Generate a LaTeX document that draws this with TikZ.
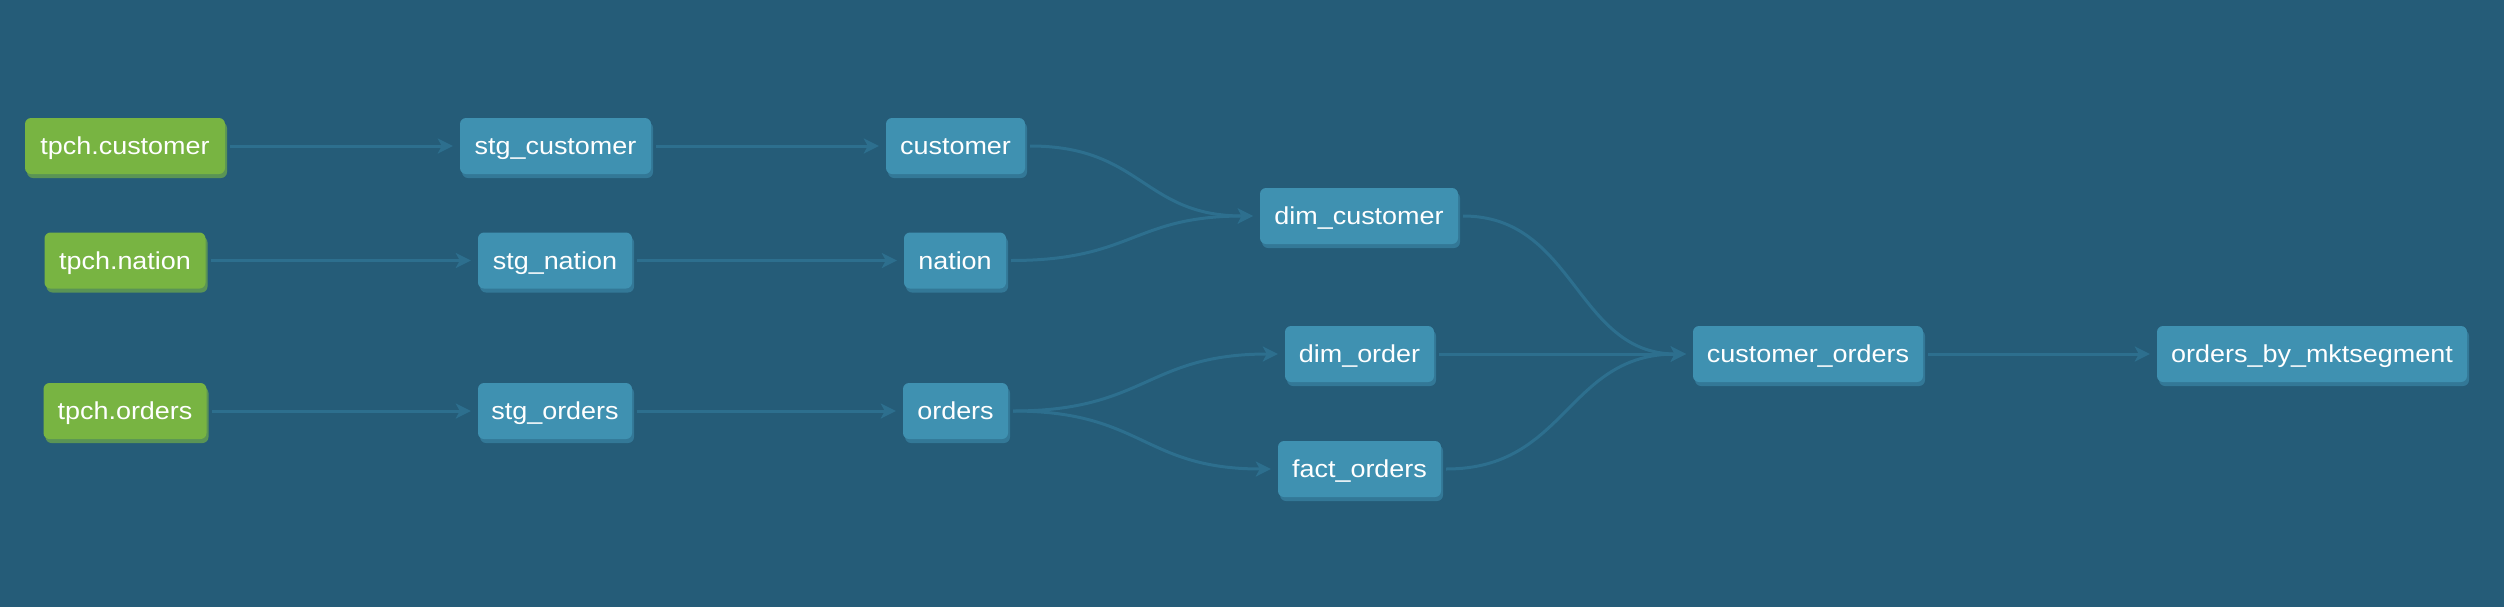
\documentclass[tikz,border=0pt]{standalone}
\usepackage{fontspec}
\setmainfont[FakeStretch=1.1]{Liberation Sans}
\usetikzlibrary{arrows.meta,shadows}
\definecolor{bgcol}{HTML}{255C78}
\definecolor{srcfill}{HTML}{78B442}
\definecolor{srcshadow}{HTML}{5A9455}
\definecolor{modelfill}{HTML}{3F91B1}
\definecolor{modelshadow}{HTML}{337897}
\definecolor{edgecol}{HTML}{2D6F8E}
\begin{document}
\begin{tikzpicture}[x=1pt,y=-1pt,
  box/.style={font=\fontsize{24.5}{28}\selectfont, text=white, inner sep=0pt,
    minimum height=56pt, text height=17.5pt, text depth=0pt, rounded corners=6pt},
  src/.style={box, fill=srcfill, general shadow={fill=srcshadow, shadow xshift=2pt, shadow yshift=-4pt}},
  mdl/.style={box, fill=modelfill, general shadow={fill=modelshadow, shadow xshift=2pt, shadow yshift=-4pt}},
  flow/.style={draw=edgecol, line width=3pt, -{Stealth[length=15pt,width=15pt,inset=4pt]},
    shorten <=5pt, shorten >=7pt}
]
\useasboundingbox (0,0) rectangle (2504,606);
\fill[bgcol] (-4,-4) rectangle (2508,610);

% column 1: sources
\node[src, minimum width=200pt] (tcust) at (125,146) {tpch.customer};
\node[src, minimum width=161pt] (tnat)  at (125,260.5) {tpch.nation};
\node[src, minimum width=163pt] (tord)  at (125,411) {tpch.orders};

% column 2: staging
\node[mdl, minimum width=191pt] (scust) at (555.5,146) {stg\_customer};
\node[mdl, minimum width=154pt] (snat)  at (555,260.5) {stg\_nation};
\node[mdl, minimum width=154pt] (sord)  at (555,411) {stg\_orders};

% column 3
\node[mdl, minimum width=139pt] (cust) at (955.5,146) {customer};
\node[mdl, minimum width=102pt] (nat)  at (955,260.5) {nation};
\node[mdl, minimum width=105pt] (ord)  at (955.5,411) {orders};

% column 4
\node[mdl, minimum width=198pt] (dimc) at (1359,216) {dim\_customer};
\node[mdl, minimum width=149pt] (dimo) at (1359.5,354) {dim\_order};
\node[mdl, minimum width=163pt] (facto) at (1359.5,469) {fact\_orders};

% column 5, 6
\node[mdl, minimum width=230pt] (custo) at (1808,354) {customer\_orders};
\node[mdl, minimum width=310pt] (obm) at (2312,354) {orders\_by\_mktsegment};

% edges
\draw[flow] (tcust.east) -- (scust.west);
\draw[flow] (tnat.east) -- (snat.west);
\draw[flow] (tord.east) -- (sord.west);
\draw[flow] (scust.east) -- (cust.west);
\draw[flow] (snat.east) -- (nat.west);
\draw[flow] (sord.east) -- (ord.west);
\draw[flow] (cust.east) .. controls +(117,0) and +(-117,0) .. (dimc.west);
\draw[flow] (nat.east) .. controls +(127,0) and +(-127,0) .. (dimc.west);
\draw[flow] (ord.east) .. controls +(138,0) and +(-138,0) .. (dimo.west);
\draw[flow] (ord.east) .. controls +(135,0) and +(-135,0) .. (facto.west);
\draw[flow] (dimc.east) .. controls +(117,0) and +(-117,0) .. (custo.west);
\draw[flow] (dimo.east) -- (custo.west);
\draw[flow] (facto.east) .. controls +(126,0) and +(-126,0) .. (custo.west);
\draw[flow] (custo.east) -- (obm.west);
\end{tikzpicture}
\end{document}
